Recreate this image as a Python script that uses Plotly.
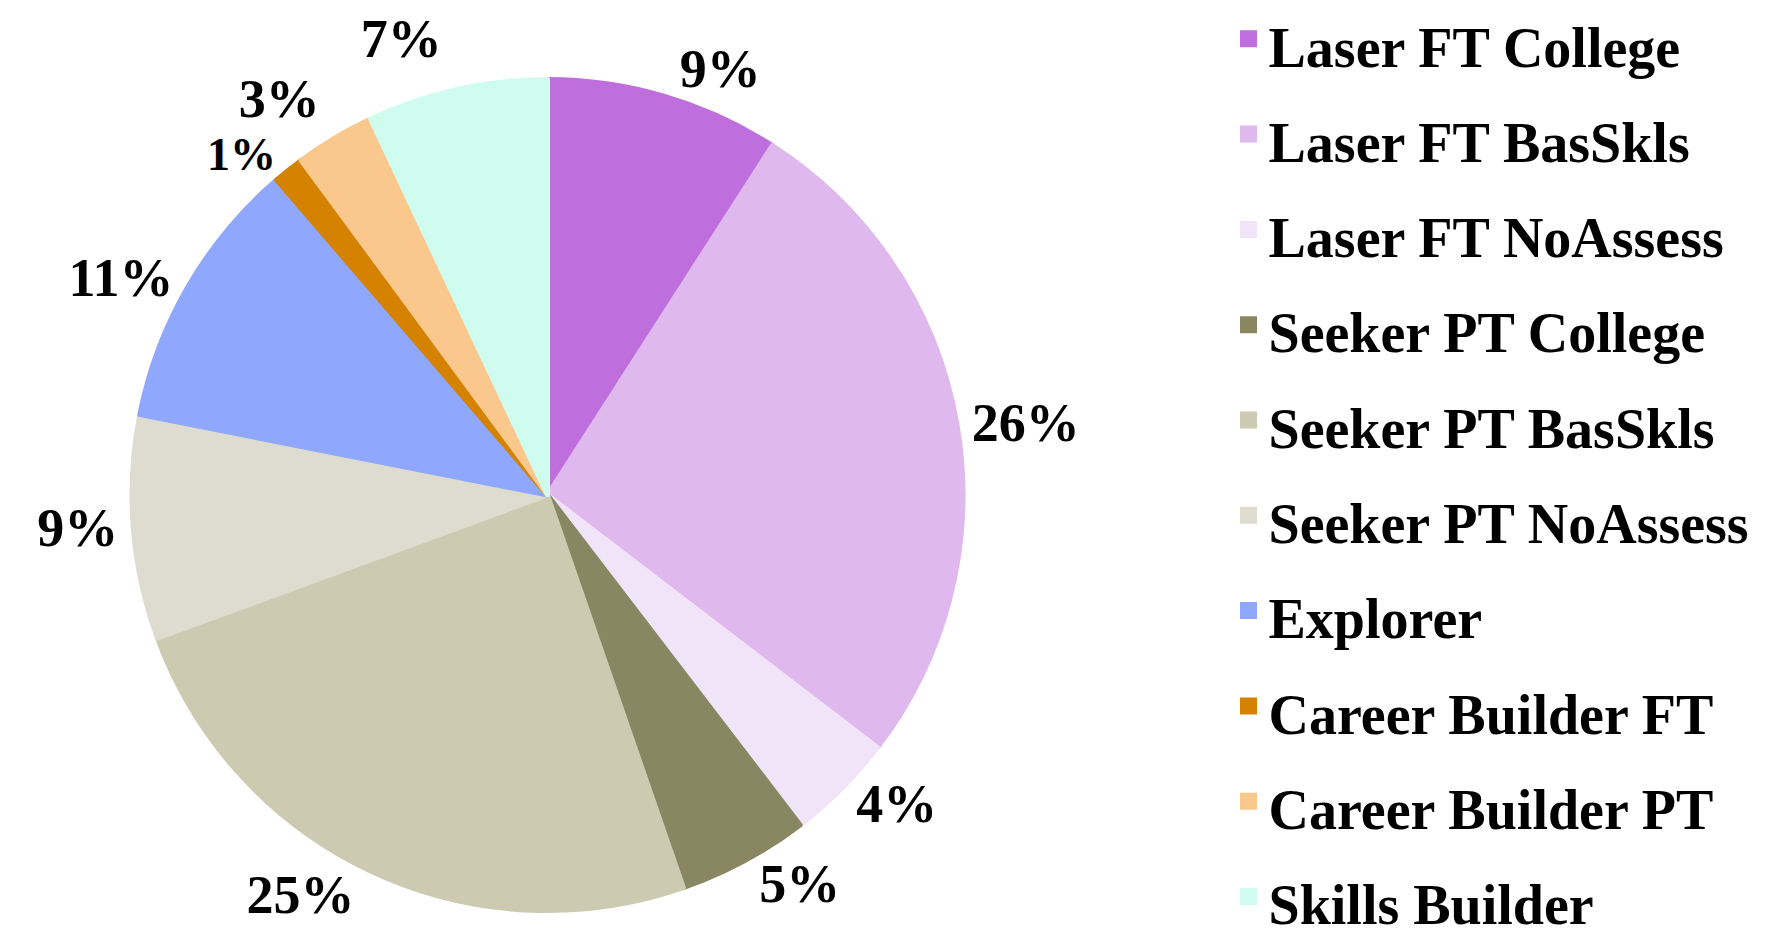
import plotly.graph_objects as go

labels = ["Laser FT College", "Laser FT BasSkls", "Laser FT NoAssess",
          "Seeker PT College", "Seeker PT BasSkls", "Seeker PT NoAssess",
          "Explorer", "Career Builder FT", "Career Builder PT", "Skills Builder"]
values = [9.1, 26.3, 4.2, 5.1, 24.7, 8.7, 10.6, 1.2, 3.1, 7.0]
colors = ["#BF6EDD", "#DFB9ED", "#F1E3F8", "#898762", "#CCCBB2", "#DDDCCE",
          "#8FA7FC", "#D48200", "#FAC88C", "#D0FCF0"]
label_sizes = [54, 54, 54, 54, 54, 54, 54, 46, 54, 54]

W, H = 1781, 949
legend_labels = [f"<span style='font-size:56px'>{l}</span>" for l in labels]

fig = go.Figure(go.Pie(
    labels=legend_labels,
    values=values,
    sort=False,
    direction="clockwise",
    rotation=0,
    marker=dict(colors=colors, line=dict(width=5, color=colors)),
    textposition="outside",
    texttemplate="<span style='fill:black;fill-opacity:1'>%{percent:.0%}</span>",
    outsidetextfont=dict(family="Liberation Serif", size=label_sizes,
                         color="rgba(0,0,0,0)", weight="bold"),
    textfont=dict(family="Liberation Serif", size=label_sizes,
                  color="rgba(0,0,0,0)", weight="bold"),
    hoverinfo="skip",
    domain=dict(x=[124 / W, 955 / W], y=[46.5 / H, 877.5 / H]),
))

fig.update_layout(
    width=W, height=H,
    margin=dict(l=0, r=0, t=0, b=0, autoexpand=False),
    paper_bgcolor="white",
    plot_bgcolor="white",
    showlegend=True,
    legend=dict(
        x=1220.5 / W, xanchor="left",
        y=1.023, yanchor="top",
        font=dict(family="Liberation Serif", size=71, color="black", weight="bold"),
        bgcolor="rgba(0,0,0,0)",
        borderwidth=0,
        maxheight=2000,
    ),
)

fig.write_html("out.html")
